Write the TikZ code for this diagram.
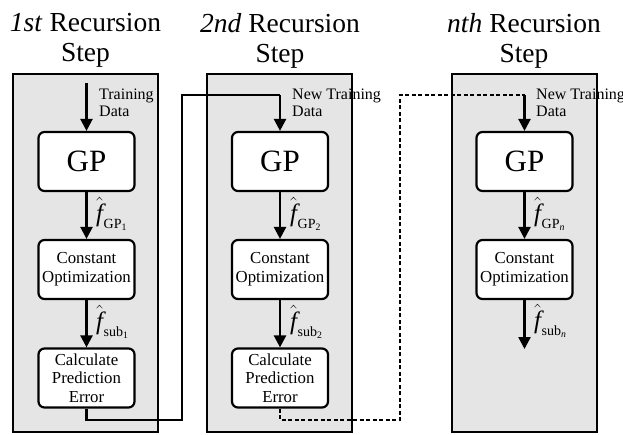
\documentclass[tikz,border=0pt]{standalone}
\usepackage{fontspec}
\setmainfont{Liberation Serif}
\usepackage{amsmath}
\usetikzlibrary{arrows.meta}
\newcommand{\fhat}[2]{{\fontsize{25}{26}\selectfont$\hat{\textit{f}}$}\kern0.5pt\raisebox{-7pt}{\fontsize{14}{14}\selectfont #1\textsubscript{#2}}}
\begin{document}
\begin{tikzpicture}[x=1pt,y=-1pt,
  panel/.style={draw, line width=2pt, fill=gray!20, minimum width=145pt, minimum height=358pt, inner sep=0pt},
  proc/.style={draw, line width=2.2pt, fill=white, rounded corners=6pt, minimum width=96pt, minimum height=59pt, inner sep=0pt, align=center, font=\fontsize{16.8}{18.6}\selectfont},
  gpbox/.style={proc, font=\fontsize{31}{32}\selectfont},
  arr/.style={line width=2.4pt, -{Triangle[length=12pt,width=12pt]}},
  conn/.style={line width=2.4pt},
  dconn/.style={line width=2.4pt, dash pattern=on 4pt off 2.5pt},
  title/.style={align=center, inner sep=0pt, font=\fontsize{27.5}{30}\selectfont},
  lbl/.style={anchor=west, align=left, inner sep=0pt, font=\fontsize{16}{17.5}\selectfont},
  flbl/.style={anchor=west, inner sep=0pt}
]
\useasboundingbox (0,0) rectangle (623,434);

% panels
\node[panel] (P1) at (85.5,253) {};
\node[panel] (P2) at (279.5,253) {};
\node[panel] (P3) at (524.5,253) {};

% titles
\node[title] (T1) at (85.5,40.5) {\textit{1st} Recursion\\Step};
\node[title] (T2) at (280,40.5) {\textit{2nd} Recursion\\Step};
\node[title] (T3) at (524,40.5) {\textit{nth} Recursion\\Step};

% boxes
\node[gpbox] (GP1) at (86.5,161.5) {GP};
\node[proc] (CO1) at (86.5,269.5) {Constant\\Optimization};
\node[proc] (CA1) at (86.5,378) {Calculate\\Prediction\\Error};

\node[gpbox] (GP2) at (280,161.5) {GP};
\node[proc] (CO2) at (280,269.5) {Constant\\Optimization};
\node[proc] (CA2) at (280,378) {Calculate\\Prediction\\Error};

\node[gpbox] (GP3) at (524.5,161.5) {GP};
\node[proc] (CO3) at (524.5,269.5) {Constant\\Optimization};

% coordinates
\coordinate (s1) at (86.5,83);
\coordinate (a1) at (86.5,420);
\coordinate (b1) at (182,420);
\coordinate (c1) at (182,95);
\coordinate (d1) at (280,95);
\coordinate (a2) at (280,420);
\coordinate (b2) at (400,420);
\coordinate (c2) at (400,95);
\coordinate (d2) at (524.5,95);
\coordinate (e3) at (524.5,349);

% arrows
\draw[arr] (s1) -- (GP1.north);
\draw[arr] (GP1.south) -- (CO1.north);
\draw[arr] (CO1.south) -- (CA1.north);
\draw[conn] (CA1.south) -- (a1) -- (b1) -- (c1) -- (d1);
\draw[arr] (d1) -- (GP2.north);
\draw[arr] (GP2.south) -- (CO2.north);
\draw[arr] (CO2.south) -- (CA2.north);
\draw[dconn] (CA2.south) -- (a2) -- (b2) -- (c2) -- (d2);
\draw[arr] (d2) -- (GP3.north);
\draw[arr] (GP3.south) -- (CO3.north);
\draw[arr] (CO3.south) -- (e3);

% labels
\node[lbl] (L1) at (99,103) {Training\\Data};
\node[lbl] (L2) at (292,103) {New Training\\Data};
\node[lbl] (L3) at (536,103) {New Training\\Data};

\node[flbl] (F1a) at (96,214) {\fhat{GP}{1}};
\node[flbl] (F1b) at (96,322) {\fhat{sub}{1}};
\node[flbl] (F2a) at (290,214) {\fhat{GP}{2}};
\node[flbl] (F2b) at (290,322) {\fhat{sub}{2}};
\node[flbl] (F3a) at (534,214) {\fhat{GP}{\textit{n}}};
\node[flbl] (F3b) at (534,321) {\fhat{sub}{\textit{n}}};
\end{tikzpicture}
\end{document}
